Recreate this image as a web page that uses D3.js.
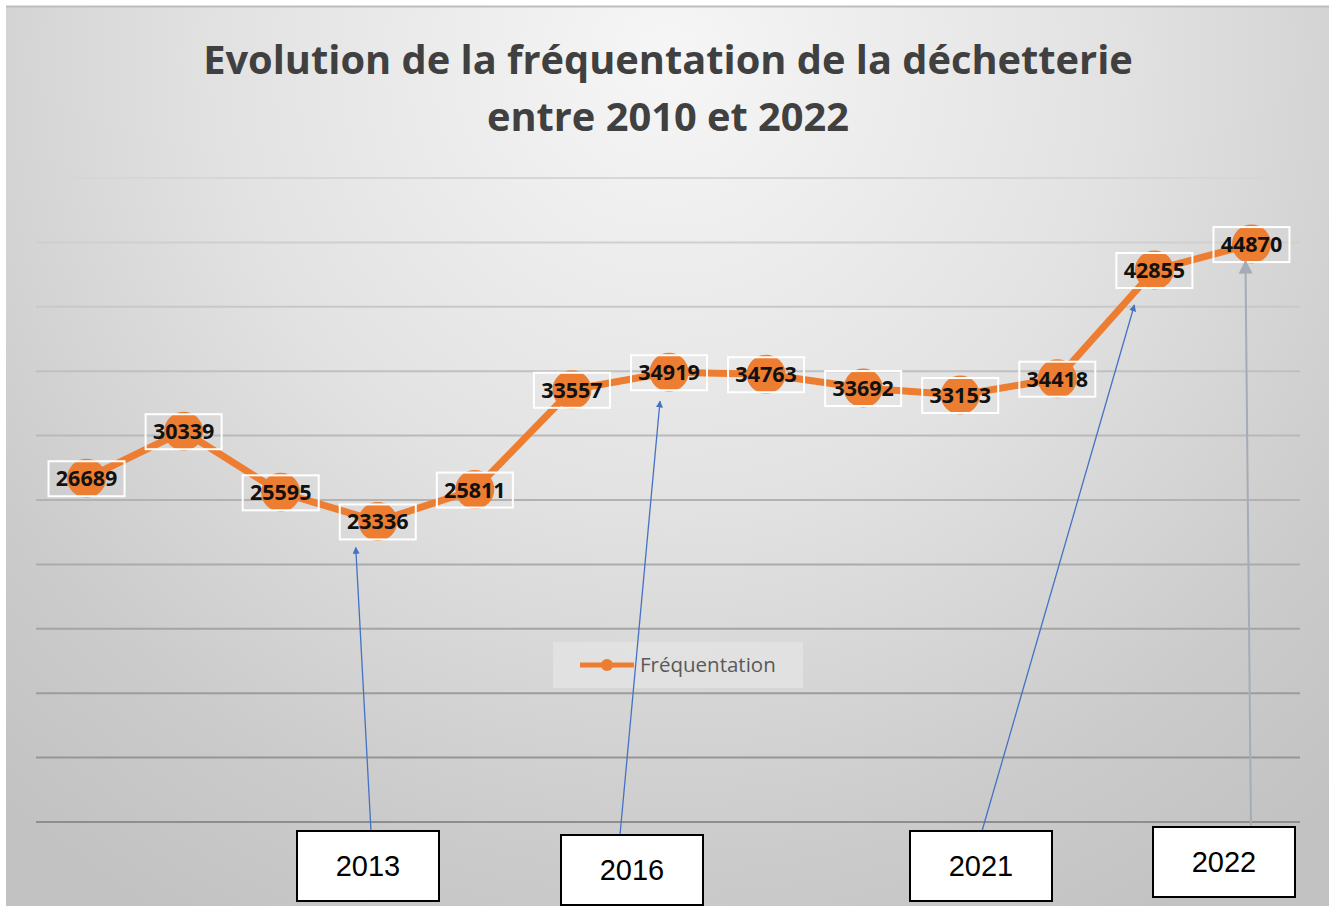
<!DOCTYPE html>
<html>
<head>
<meta charset="utf-8">
<script src="https://cdn.jsdelivr.net/npm/d3@7"></script>
<style>
  body { margin: 0; background: #fff; }
  svg { display: block; }
</style>
</head>
<body>
<div id="chart"></div>
<script>
// Fréquentation de la déchetterie 2010-2022 (D3 v7)

const years = [2010, 2011, 2012, 2013, 2014, 2015, 2016, 2017, 2018, 2019, 2020, 2021, 2022];
const visits = [26689, 30339, 25595, 23336, 25811, 33557, 34919, 34763, 33692, 33153, 34418, 42855, 44870];
const yTicks = [0, 5000, 10000, 15000, 20000, 25000, 30000, 35000, 40000, 45000, 50000];
const titleLines = ['Evolution de la fréquentation de la déchetterie', 'entre 2010 et 2022'];
const seriesName = 'Fréquentation';

// callout boxes under the chart: year, box centre, arrow tip offset from the point
const callouts = [
	{year: 2013, cx: 368, cy: 866, sx: 3, dx: -22, dy: 26, color: '#4472c4'},
	{year: 2016, cx: 632, cy: 870, sx: -12, dx: -9, dy: 29, color: '#4472c4'},
	{year: 2021, cx: 981, cy: 866, sx: 1, dx: -20, dy: 35, color: '#4472c4'},
	{year: 2022, cx: 1224, cy: 862, sx: 27, dx: -6, dy: 17, color: '#a5acb5'}
];

const W = 1329, H = 906;
const plot = {left: 38, right: 1300, top: 178, bottom: 822};

const svg = d3.select('#chart').append('svg')
	.attr('width', W)
	.attr('height', H);

const defs = svg.append('defs');
const grad = defs.append('radialGradient')
	.attr('id', 'bg')
	.attr('gradientUnits', 'userSpaceOnUse')
	.attr('cx', 668).attr('cy', 60).attr('r', 1000);
grad.append('stop').attr('offset', 0).attr('stop-color', '#f6f6f6');
grad.append('stop').attr('offset', 0.45).attr('stop-color', '#e2e2e2');
grad.append('stop').attr('offset', 0.8).attr('stop-color', '#cbcbcb');
grad.append('stop').attr('offset', 1).attr('stop-color', '#c2c2c2');

callouts.forEach((c, i) => {
	defs.append('marker')
		.attr('id', 'arrow' + i)
		.attr('viewBox', '0 0 10 10')
		.attr('refX', 9).attr('refY', 5)
		.attr('markerWidth', i === 3 ? 14 : 7).attr('markerHeight', i === 3 ? 14 : 7)
		.attr('markerUnits', 'userSpaceOnUse')
		.attr('orient', 'auto')
		.append('path')
		.attr('d', 'M0,0 L10,5 L0,10 Z')
		.attr('fill', c.color);
});

svg.append('rect')
	.attr('x', 6).attr('y', 6)
	.attr('width', W - 6).attr('height', H - 6)
	.attr('fill', 'url(#bg)');
svg.append('line')
	.attr('x1', 6).attr('x2', W).attr('y1', 6.5).attr('y2', 6.5)
	.attr('stroke', '#bdbdbd').attr('stroke-width', 2);

// title
const title = svg.append('g');
titleLines.forEach((t, i) => {
	title.append('text')
		.attr('x', 668)
		.attr('y', 74 + i * 57)
		.attr('text-anchor', 'middle')
		.attr('font-family', '"Open Sans", "Noto Sans", sans-serif')
		.attr('font-weight', 700)
		.attr('font-size', 38)
		.attr('fill', '#404040')
		.text(t);
});
// squeeze the first line to the reference width
const t0 = title.select('text').node();
const scaleFs = 930 / t0.getComputedTextLength();
title.selectAll('text').attr('font-size', 38 * scaleFs);

const x = d3.scaleBand()
	.domain(years)
	.range([plot.left, plot.right]);

const y = d3.scaleLinear()
	.domain([0, 50000])
	.range([plot.bottom, plot.top]);

const px = d => x(d) + x.bandwidth() / 2;

// gridlines (they get darker towards the bottom)
const gridColor = d3.scaleLinear().domain([50000, 0]).range(['#d6d6d6', '#8e8e8e']);
svg.append('g')
	.selectAll('line')
	.data(yTicks)
	.enter()
	.append('line')
	.attr('x1', plot.left - 2).attr('x2', plot.right)
	.attr('y1', d => y(d)).attr('y2', d => y(d))
	.attr('stroke', d => gridColor(d))
	.attr('stroke-width', 2);

// legend
const leg = svg.append('g');
leg.append('rect')
	.attr('x', 553).attr('y', 642)
	.attr('width', 250).attr('height', 46)
	.attr('fill', '#e6e6e6').attr('opacity', 0.7);
leg.append('line')
	.attr('x1', 580).attr('x2', 634).attr('y1', 665).attr('y2', 665)
	.attr('stroke', '#ed7d31').attr('stroke-width', 5);
leg.append('circle')
	.attr('cx', 607).attr('cy', 665).attr('r', 6)
	.attr('fill', '#ed7d31');
leg.append('text')
	.attr('x', 640).attr('y', 672)
	.attr('font-family', '"Open Sans", sans-serif')
	.attr('font-size', 20.5)
	.attr('fill', '#595959')
	.text(seriesName);

const data = years.map((yr, i) => ({year: yr, value: visits[i]}));

// line + markers
svg.append('path')
	.datum(data)
	.attr('fill', 'none')
	.attr('stroke', '#ed7d31')
	.attr('stroke-width', 7)
	.attr('stroke-linejoin', 'round')
	.attr('d', d3.line().x(d => px(d.year)).y(d => y(d.value)));

svg.append('g')
	.selectAll('circle')
	.data(data)
	.enter()
	.append('circle')
	.attr('cx', d => px(d.year))
	.attr('cy', d => y(d.value))
	.attr('r', 19.5)
	.attr('fill', '#ed7d31');

// data labels
const lab = svg.append('g')
	.selectAll('g')
	.data(data)
	.enter()
	.append('g')
	.attr('transform', d => `translate(${px(d.year)},${y(d.value)})`);

lab.append('rect')
	.attr('x', -38).attr('y', -17)
	.attr('width', 76).attr('height', 35)
	.attr('fill', 'none')
	.attr('stroke', '#ffffff')
	.attr('stroke-width', 2);

lab.append('text')
	.attr('text-anchor', 'middle')
	.attr('y', 8)
	.attr('font-family', '"Open Sans", sans-serif')
	.attr('font-weight', 700)
	.attr('font-size', 21.5)
	.attr('fill', '#111')
	.text(d => d.value);

// callouts
const ann = svg.append('g');
callouts.forEach((c, i) => {
	const v = visits[years.indexOf(c.year)];
	ann.append('line')
		.attr('x1', c.cx + c.sx)
		.attr('y1', c.cy - 35)
		.attr('x2', px(c.year) + c.dx)
		.attr('y2', y(v) + c.dy)
		.attr('stroke', c.color)
		.attr('stroke-width', i === 3 ? 2 : 1.3)
		.attr('marker-end', `url(#arrow${i})`);
	ann.append('rect')
		.attr('x', c.cx - 71).attr('y', c.cy - 35)
		.attr('width', 142).attr('height', 70)
		.attr('fill', '#ffffff')
		.attr('stroke', '#000')
		.attr('stroke-width', 2);
	ann.append('text')
		.attr('x', c.cx).attr('y', c.cy + 10)
		.attr('text-anchor', 'middle')
		.attr('font-family', '"Liberation Sans", Arial, sans-serif')
		.attr('font-size', 29)
		.attr('fill', '#000')
		.text(c.year);
});
</script>
</body>
</html>
